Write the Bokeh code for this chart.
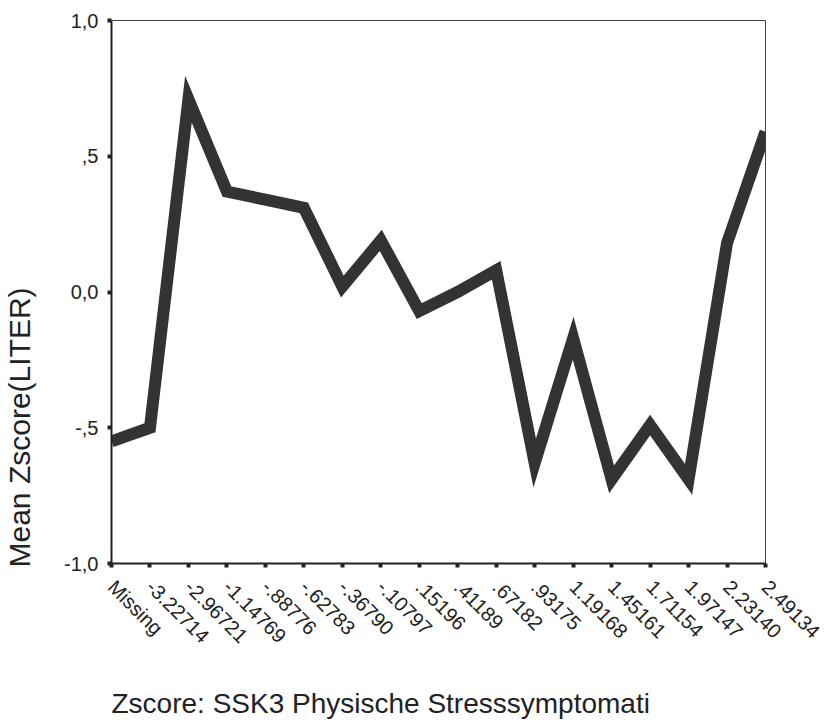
import math
from bokeh.plotting import figure
from bokeh.models import Range1d, FixedTicker, Title
from bokeh.embed import file_html
from bokeh.resources import INLINE

categories = ["Missing", "-3.22714", "-2.96721", "-1.14769", "-.88776", "-.62783",
              "-.36790", "-.10797", ".15196", ".41189", ".67182", ".93175",
              "1.19168", "1.45161", "1.71154", "1.97147", "2.23140", "2.49134"]
mean_z = [-0.55, -0.50, 0.71, 0.37, 0.34, 0.31, 0.02, 0.19, -0.07, 0.00,
          0.08, -0.63, -0.17, -0.69, -0.49, -0.69, 0.18, 0.59]
y_ticks = [-1, -0.5, 0, 0.5, 1]
y_tick_labels = ["-1,0", "-,5", "0,0", ",5", "1,0"]
y_title = "Mean Zscore(LITER)"
x_title = "Zscore:  SSK3 Physische Stresssymptomati"

FONT = "Liberation Sans"
xs = list(range(len(categories)))

p = figure(width=830, height=722, output_backend="svg", toolbar_location=None,
           x_range=Range1d(0, len(categories) - 1), y_range=Range1d(-1, 1),
           min_border_left=110, min_border_right=65, min_border_top=20,
           min_border_bottom=159)
p.grid.visible = False
p.background_fill_color = "white"
p.border_fill_color = "white"
p.outline_line_color = "#444444"
p.outline_line_width = 1

p.line(xs, mean_z, line_color="#333333", line_width=12, line_join="miter")

p.xaxis.ticker = FixedTicker(ticks=xs)
p.xaxis.major_label_overrides = {i: c for i, c in enumerate(categories)}
p.xaxis.major_label_orientation = -math.pi / 4
p.yaxis.ticker = FixedTicker(ticks=y_ticks)
p.yaxis.major_label_overrides = {t: l for t, l in zip(y_ticks, y_tick_labels)}

for ax in (p.xaxis, p.yaxis):
    ax.axis_line_width = 2
    ax.axis_line_color = "#222222"
    ax.major_tick_in = 0
    ax.major_tick_out = 4
    ax.major_tick_line_width = 4
    ax.major_tick_line_color = "#222222"
    ax.minor_tick_line_color = None
    ax.major_label_text_font = FONT
    ax.major_label_text_color = "#222222"
    # blank axis label used only as spacing between tick labels and the titles
    ax.axis_label = " "
    ax.axis_label_text_font_size = "2px"
p.yaxis.major_label_text_font_size = "20px"
p.xaxis.major_label_text_font_size = "20px"
p.yaxis.major_label_standoff = 9
p.xaxis.major_label_standoff = 16
p.yaxis.axis_label_standoff = 20
p.xaxis.axis_label_standoff = 22

p.add_layout(Title(text=y_title, align="left", offset=-4, vertical_align="bottom",
                   text_font=FONT, text_font_size="30px", text_font_style="normal",
                   text_color="#222222", standoff=0), "left")
p.add_layout(Title(text=x_title, align="left", offset=0, vertical_align="bottom",
                   text_font=FONT, text_font_size="28px", text_font_style="normal",
                   text_color="#222222", standoff=0), "below")

open("out.html", "w").write(file_html(p, INLINE))
